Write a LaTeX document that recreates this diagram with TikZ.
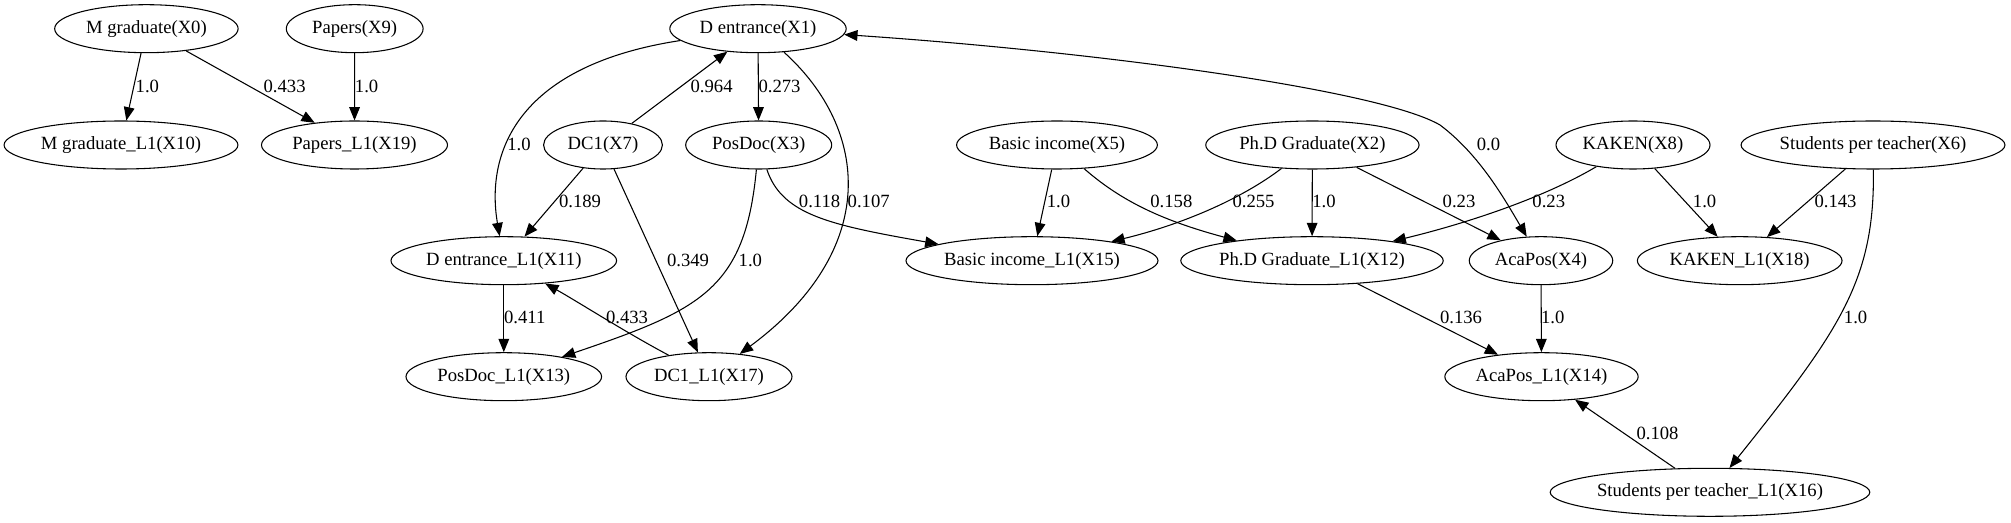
\documentclass[tikz,border=0pt]{standalone}
\usepackage{fontspec}
\setmainfont{Liberation Serif}
\usetikzlibrary{shapes.geometric,arrows.meta}
\tikzset{
  ell/.style={ellipse, draw, line width=0.8pt, inner sep=0pt, minimum height=36pt, minimum width=#1},
  edge/.style={line width=0.8pt, -{Triangle[length=10pt,width=8pt]}},
  edgeboth/.style={line width=0.8pt, {Triangle[length=10pt,width=8pt]}-{Triangle[length=10pt,width=8pt]}},
  lbl/.style={inner sep=0pt}
}
\begin{document}
\begin{tikzpicture}[x=0.75pt,y=-0.75pt,font=\fontsize{14}{16}\selectfont]
\useasboundingbox (0,0) rectangle (2011,523);
% row 1
\node[ell=137.6pt] (X0) at (146.4,28.7) {M graduate(X0)};
\node[ell=102.6pt] (X9) at (354.7,28.7) {Papers(X9)};
\node[ell=132.3pt] (X1) at (758,28.7) {D entrance(X1)};
% row 2
\node[ell=175.4pt] (X10) at (121,145) {M graduate\_L1(X10)};
\node[ell=139.5pt] (X19) at (354.5,145) {Papers\_L1(X19)};
\node[ell=89.1pt] (X7) at (603,145) {DC1(X7)};
\node[ell=109.5pt] (X3) at (758.7,145) {PosDoc(X3)};
\node[ell=150.6pt] (X5) at (1057,145) {Basic income(X5)};
\node[ell=160pt] (X2) at (1312.4,145) {Ph.D Graduate(X2)};
\node[ell=115.5pt] (X8) at (1633,145) {KAKEN(X8)};
\node[ell=197.4pt] (X6) at (1873,145) {Students per teacher(X6)};
% row 3
\node[ell=169.2pt] (X11) at (503.8,260.7) {D entrance\_L1(X11)};
\node[ell=189pt] (X15) at (1032,260.7) {Basic income\_L1(X15)};
\node[ell=196.5pt] (X12) at (1312,260.7) {Ph.D Graduate\_L1(X12)};
\node[ell=107.6pt] (X4) at (1541,260.7) {AcaPos(X4)};
\node[ell=153.5pt] (X18) at (1739.7,260.7) {KAKEN\_L1(X18)};
% row 4
\node[ell=146.7pt] (X13) at (503.8,376.7) {PosDoc\_L1(X13)};
\node[ell=124.5pt] (X17) at (709,376.7) {DC1\_L1(X17)};
\node[ell=145pt] (X14) at (1541.5,376.7) {AcaPos\_L1(X14)};
% row 5
\node[ell=235.5pt] (X16) at (1710,492.3) {Students per teacher\_L1(X16)};

% edges
\draw[edge] (X0) -- (X10);
\draw[edge] (X0) -- (X19);
\draw[edge] (X9) -- (X19);
\draw[edge] (X1) .. controls (520,65) and (485,150) .. (X11);
\draw[edge] (X7) -- (X1);
\draw[edge] (X1) -- (X3);
\draw[edge] (X1) .. controls (870,130) and (880,250) .. (X17);
\draw[edge] (X7) -- (X11);
\draw[edge] (X7) -- (X17);
\draw[edge] (X3) .. controls (745,290) and (700,310) .. (X13);
\draw[edge] (X3) .. controls (782,215) and (830,225) .. (X15);
\draw[edge] (X11) -- (X13);
\draw[edge] (X17) .. controls (625,332) and (575,300) .. (X11);
\draw[edge] (X5) -- (X15);
\draw[edge] (X5) .. controls (1120,200) and (1160,220) .. (X12);
\draw[edge] (X2) .. controls (1240,200) and (1180,225) .. (X15);
\draw[edge] (X2) -- (X12);
\draw[edge] (X2) -- (X4);
\draw[edge] (X8) .. controls (1540,200) and (1460,225) .. (X12);
\draw[edge] (X8) -- (X18);
\draw[edge] (X6) -- (X18);
\draw[edge] (X6) .. controls (1875,280) and (1840,330) .. (X16);
\draw[edge] (X12) -- (X14);
\draw[edge] (X4) -- (X14);
\draw[edge] (X16) -- (X14);
\draw[edgeboth] (X1) .. controls (1100,52) and (1380,90) .. (1440,125) .. controls (1480,155) and (1505,200) .. (X4);

% labels
\node[lbl] (l1) at (147.4,86) {1.0};
\node[lbl] (l2) at (284.6,86) {0.433};
\node[lbl] (l3) at (366.6,86) {1.0};
\node[lbl] (l4) at (519,144.3) {1.0};
\node[lbl] (l5) at (580,201.7) {0.189};
\node[lbl] (l6) at (524.7,317.7) {0.411};
\node[lbl] (l7) at (627,317.7) {0.433};
\node[lbl] (l8) at (711.6,86) {0.964};
\node[lbl] (l9) at (779.5,86) {0.273};
\node[lbl] (l10) at (819.6,201.7) {0.118};
\node[lbl] (l11) at (868.7,201.7) {0.107};
\node[lbl] (l12) at (688,260) {0.349};
\node[lbl] (l13) at (750.4,260) {1.0};
\node[lbl] (l14) at (1058.5,201.7) {1.0};
\node[lbl] (l15) at (1171.4,201.7) {0.158};
\node[lbl] (l16) at (1253.5,201.7) {0.255};
\node[lbl] (l17) at (1324,201.7) {1.0};
\node[lbl] (l18) at (1488.5,144.3) {0.0};
\node[lbl] (l19) at (1459,201.7) {0.23};
\node[lbl] (l20) at (1548.8,201.7) {0.23};
\node[lbl] (l21) at (1704.6,201.7) {1.0};
\node[lbl] (l22) at (1835.5,201.7) {0.143};
\node[lbl] (l23) at (1461,317.7) {0.136};
\node[lbl] (l24) at (1552.7,317.7) {1.0};
\node[lbl] (l25) at (1855.6,317.7) {1.0};
\node[lbl] (l26) at (1657.5,433.3) {0.108};
\end{tikzpicture}
\end{document}
